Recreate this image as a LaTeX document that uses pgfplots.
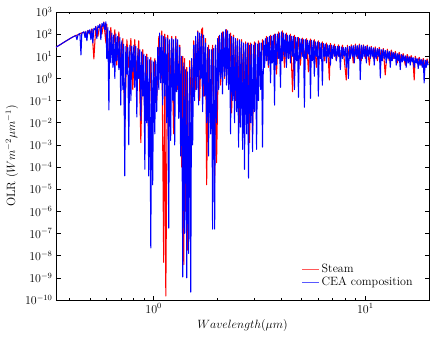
\documentclass[border=0pt]{standalone}
\usepackage{pgfplots}
\pgfplotsset{compat=1.18}

% data: x = log10(wavelength / um), y = log10(OLR)
\pgfplotstableread{
lx ly
-0.462 1.41
-0.443 1.52
-0.425 1.63
-0.406 1.74
-0.387 1.85
-0.373 1.92
-0.368 1.94
-0.358 1.97
-0.349 2.03
-0.340 2.05
-0.330 2.10
-0.321 1.9
-0.311 2.17
-0.302 2.0
-0.292 2.24
-0.283 0.88
-0.274 2.35
-0.264 1.9
-0.255 2.45
-0.245 2.0
-0.236 2.55
-0.226 1.6
-0.222 2.45
-0.212 0.5
-0.203 2.3
-0.193 1.0
-0.184 2.2
-0.175 0.6
-0.165 2.1
-0.156 0.8
-0.146 1.8
-0.137 -2.2
-0.127 1.75
-0.118 0.5
-0.108 1.8
-0.099 -0.5
-0.090 1.75
-0.080 0.2
-0.071 1.7
-0.061 -2.9
-0.052 1.3
-0.042 -1.5
-0.033 1.1
-0.024 -3.0
-0.014 0.95
-0.005 -2.0
0.005 0.9
0.014 -1.0
0.024 1.9
0.033 0.0
0.038 2.15
0.047 -8.3
0.052 2.0
0.057 -9.82
0.066 1.95
0.075 -1.0
0.085 1.9
0.094 -2.5
0.104 1.9
0.113 -0.5
0.123 1.5
0.132 -4.0
0.137 1.0
0.142 -8.4
0.146 0.9
0.151 -6.0
0.156 0.5
0.160 -7.75
0.170 0.8
0.179 -2.0
0.189 1.7
0.198 -0.5
0.208 2.15
0.217 -1.0
0.226 2.2
0.231 2.28
0.236 -0.8
0.245 1.8
0.250 -4.8
0.259 1.5
0.269 -2.5
0.278 1.5
0.288 -4.7
0.292 1.5
0.297 -3.8
0.307 1.9
0.316 -0.3
0.325 2.1
0.335 0.0
0.344 2.2
0.354 -0.2
0.363 2.05
0.368 -1.56
0.377 1.95
0.387 -1.0
0.396 1.8
0.406 -2.0
0.415 1.75
0.425 -1.5
0.434 1.65
0.443 -2.0
0.448 1.6
0.453 -2.9
0.458 1.6
0.467 -2.5
0.476 1.65
0.486 -1.0
0.495 1.7
0.505 0.0
0.514 1.75
0.524 0.8
0.533 1.9
0.542 0.5
0.552 1.95
0.561 0.8
0.571 2.0
0.580 0.2
0.590 2.1
0.599 0.8
0.608 2.15
0.618 0.5
0.627 2.05
0.637 0.9
0.646 2.0
0.656 -0.6
0.665 1.95
0.675 0.8
0.684 1.85
0.693 0.6
0.703 1.82
0.712 0.9
0.722 1.8
0.731 0.3
0.741 1.78
0.750 0.9
0.759 1.75
0.769 0.5
0.778 1.7
0.788 0.9
0.797 1.65
0.807 0.8
0.816 1.6
0.825 0.9
0.830 -0.07
0.835 1.58
0.844 0.9
0.854 1.55
0.863 0.8
0.873 1.52
0.882 0.9
0.892 1.5
0.901 0.8
0.910 -0.07
0.915 1.5
0.925 0.9
0.934 1.52
0.943 0.7
0.953 1.55
0.962 0.9
0.972 1.55
0.981 0.8
0.991 1.52
1.000 0.9
1.009 1.5
1.019 0.6
1.028 1.45
1.038 0.9
1.047 1.42
1.057 0.8
1.066 1.4
1.075 0.9
1.085 1.35
1.094 0.16
1.104 1.32
1.113 0.8
1.123 1.28
1.132 0.9
1.142 1.22
1.151 0.7
1.160 1.18
1.170 0.8
1.179 1.12
1.189 0.6
1.198 1.08
1.208 0.8
1.217 1.03
1.226 0.7
1.231 -0.07
1.236 1.0
1.245 0.7
1.255 0.95
1.264 0.6
1.274 0.9
1.283 0.5
1.292 0.88
1.297 0.7
}\steam

\pgfplotstableread{
lx ly
-0.462 1.41
-0.443 1.52
-0.425 1.63
-0.406 1.74
-0.387 1.85
-0.373 1.92
-0.368 1.94
-0.363 1.75
-0.358 1.97
-0.349 2.03
-0.344 1.06
-0.340 2.05
-0.330 2.10
-0.325 1.85
-0.321 2.13
-0.316 1.70
-0.311 2.16
-0.307 2.05
-0.302 2.20
-0.297 1.75
-0.292 2.22
-0.288 1.60
-0.283 2.26
-0.278 2.20
-0.274 2.34
-0.269 1.80
-0.264 2.38
-0.259 2.30
-0.255 2.43
-0.250 1.75
-0.245 2.48
-0.241 2.35
-0.236 2.53
-0.231 2.20
-0.226 2.56
-0.222 0.9
-0.217 2.3
-0.212 -1.42
-0.208 2.15
-0.203 0.7
-0.198 2.05
-0.193 0.5
-0.189 1.95
-0.184 0.0
-0.179 2.0
-0.175 0.8
-0.170 1.9
-0.165 0.4
-0.160 1.85
-0.156 -1.2
-0.151 1.7
-0.146 -0.5
-0.142 1.55
-0.137 -4.4
-0.132 1.45
-0.127 0.2
-0.123 1.4
-0.118 -3.0
-0.113 1.5
-0.108 -1.0
-0.104 1.45
-0.099 0.3
-0.094 1.5
-0.090 -0.4
-0.085 1.45
-0.080 -1.74
-0.075 1.35
-0.071 0.0
-0.066 1.3
-0.061 -1.9
-0.057 1.2
-0.052 -0.8
-0.047 1.1
-0.042 -4.1
-0.038 1.0
-0.033 -2.0
-0.028 0.95
-0.024 -4.4
-0.019 0.85
-0.014 -7.65
-0.009 0.8
-0.005 -4.8
0.000 0.75
0.005 -2.5
0.009 0.8
0.014 -1.5
0.019 1.4
0.024 -0.5
0.028 2.05
0.033 -0.2
0.038 1.95
0.042 -1.2
0.047 1.9
0.052 -0.8
0.057 1.85
0.061 -2.0
0.066 1.8
0.071 -6.75
0.075 1.75
0.080 -2.8
0.085 1.8
0.090 -1.0
0.094 1.75
0.099 -3.0
0.104 1.8
0.108 -0.6
0.113 1.75
0.118 -1.8
0.123 1.4
0.127 -3.5
0.132 1.0
0.137 -8.96
0.142 0.7
0.146 -7.0
0.151 0.4
0.156 -9.0
0.160 0.3
0.165 -7.9
0.170 0.5
0.175 -9.64
0.179 0.9
0.184 -3.0
0.189 1.5
0.193 -1.0
0.198 1.9
0.203 -0.5
0.208 2.1
0.212 -1.2
0.217 2.05
0.222 0.0
0.226 2.0
0.231 -1.5
0.236 1.95
0.241 -0.8
0.245 1.6
0.250 -2.0
0.255 1.4
0.259 -3.5
0.264 1.3
0.269 -2.5
0.274 1.3
0.278 -6.8
0.283 1.35
0.288 -6.8
0.292 1.5
0.297 -2.0
0.302 1.8
0.307 -0.5
0.311 1.95
0.316 0.0
0.321 2.05
0.325 -0.7
0.330 2.1
0.335 0.1
0.340 2.2
0.344 -0.3
0.349 2.15
0.354 -0.5
0.358 2.0
0.363 -2.5
0.368 1.9
0.373 -1.0
0.377 1.85
0.382 -2.0
0.387 1.8
0.392 -1.5
0.396 1.7
0.401 -3.1
0.406 1.75
0.410 -2.2
0.415 1.65
0.420 -3.2
0.425 1.6
0.429 -4.1
0.434 1.55
0.439 -2.5
0.443 1.6
0.448 -4.5
0.453 1.5
0.458 -2.0
0.462 1.55
0.467 -3.3
0.472 1.5
0.476 -1.5
0.481 1.6
0.486 -3.2
0.491 1.55
0.495 -1.0
0.500 1.6
0.505 -0.5
0.509 1.6
0.514 -3.1
0.519 1.7
0.524 0.5
0.528 1.8
0.533 0.8
0.538 1.85
0.542 0.6
0.547 1.9
0.552 -0.2
0.557 1.9
0.561 0.7
0.566 1.95
0.571 -1.2
0.575 2.0
0.580 0.6
0.585 2.0
0.590 0.9
0.594 2.05
0.599 -0.4
0.604 2.1
0.608 0.8
0.613 2.05
0.618 1.0
0.623 2.0
0.627 0.5
0.632 1.95
0.637 0.9
0.642 1.95
0.646 0.7
0.651 1.9
0.656 1.0
0.660 1.9
0.665 -0.5
0.670 1.85
0.675 0.8
0.679 1.85
0.684 -0.85
0.689 1.8
0.693 0.9
0.698 1.78
0.703 1.0
0.708 1.75
0.712 -1.3
0.717 1.75
0.722 0.9
0.726 1.72
0.731 1.1
0.736 1.7
0.741 -0.9
0.745 1.72
0.750 0.8
0.755 1.7
0.759 0.1
0.764 1.65
0.769 1.0
0.774 1.65
0.778 -0.8
0.783 1.62
0.788 0.9
0.792 1.6
0.797 -0.3
0.802 1.58
0.807 1.0
0.811 1.55
0.816 0.7
0.821 1.52
0.825 1.0
0.830 1.5
0.835 0.6
0.840 1.5
0.844 0.9
0.849 1.48
0.854 1.0
0.858 1.45
0.863 0.8
0.868 1.45
0.873 1.0
0.877 1.45
0.882 0.4
0.887 1.42
0.892 0.9
0.896 1.4
0.901 1.0
0.906 1.4
0.910 0.5
0.915 1.42
0.920 0.0
0.925 1.45
0.929 0.9
0.934 1.45
0.939 1.0
0.943 1.48
0.948 0.7
0.953 1.48
0.958 1.0
0.962 1.48
0.967 0.9
0.972 1.5
0.976 -0.05
0.981 1.5
0.986 0.9
0.991 1.48
0.995 1.0
1.000 1.45
1.005 0.7
1.009 1.45
1.014 1.0
1.019 1.42
1.024 0.9
1.028 1.4
1.033 1.0
1.038 1.38
1.042 0.6
1.047 1.35
1.052 0.9
1.057 1.35
1.061 1.0
1.066 1.32
1.071 0.02
1.075 1.3
1.080 0.8
1.085 1.3
1.090 0.9
1.094 1.27
1.099 0.7
1.104 1.25
1.108 0.9
1.113 1.22
1.118 0.5
1.123 1.2
1.127 0.8
1.132 1.17
1.137 0.9
1.142 1.15
1.146 0.6
1.151 1.12
1.156 0.8
1.160 1.1
1.165 0.4
1.170 1.08
1.175 0.75
1.179 1.05
1.184 0.8
1.189 1.02
1.193 0.5
1.198 1.0
1.203 0.7
1.208 0.98
1.212 0.6
1.217 0.96
1.222 0.75
1.226 0.94
1.231 0.5
1.236 0.92
1.241 0.7
1.245 0.9
1.250 0.45
1.255 0.88
1.259 0.6
1.264 0.86
1.269 0.5
1.274 0.84
1.278 -0.2
1.283 0.83
1.288 0.5
1.292 0.82
1.297 0.6
}\cea

\begin{document}
\begin{tikzpicture}
\useasboundingbox (-56pt,-39pt) rectangle (379pt,300pt);
\begin{axis}[
    scale only axis,
    width=373pt, height=288pt,
    xmin=-0.462, xmax=1.301,
    ymin=-10, ymax=3,
    xtick={0,1},
    xticklabels={$10^{0}$,$10^{1}$},
    minor xtick={-0.398,-0.301,-0.222,-0.155,-0.097,-0.046,0.301,0.477,0.602,0.699,0.778,0.845,0.903,0.954},
    ytick={-10,-9,...,3},
    yticklabels={$10^{-10}$,$10^{-9}$,$10^{-8}$,$10^{-7}$,$10^{-6}$,$10^{-5}$,$10^{-4}$,$10^{-3}$,$10^{-2}$,$10^{-1}$,$10^{0}$,$10^{1}$,$10^{2}$,$10^{3}$},
    tick align=inside,
    major tick length=4.5pt,
    minor tick length=2.5pt,
    every tick/.style={black, line width=0.6pt},
    axis line style={line width=0.8pt},
    tick label style={font=\fontsize{12}{14}\selectfont},
    label style={font=\fontsize{12}{14}\selectfont},
    xlabel={$Wavelength(\mu m)$},
    ylabel={OLR ($W m^{-2} \mu m^{-1}$)},
    legend style={draw=none, fill=none, at={(0.97,0.03)}, anchor=south east,
        font=\fontsize{12}{14}\selectfont, row sep=-1pt},
    legend cell align=left,
    legend image post style={opacity=0.65, line width=1pt},
]
\addplot[red, line width=1.05pt, line join=round] table[x=lx, y=ly] {\steam};
\addlegendentry{Steam}
\addplot[blue, line width=1.05pt, line join=round] table[x=lx, y=ly] {\cea};
\addlegendentry{CEA composition}
\end{axis}
\end{tikzpicture}
\end{document}
